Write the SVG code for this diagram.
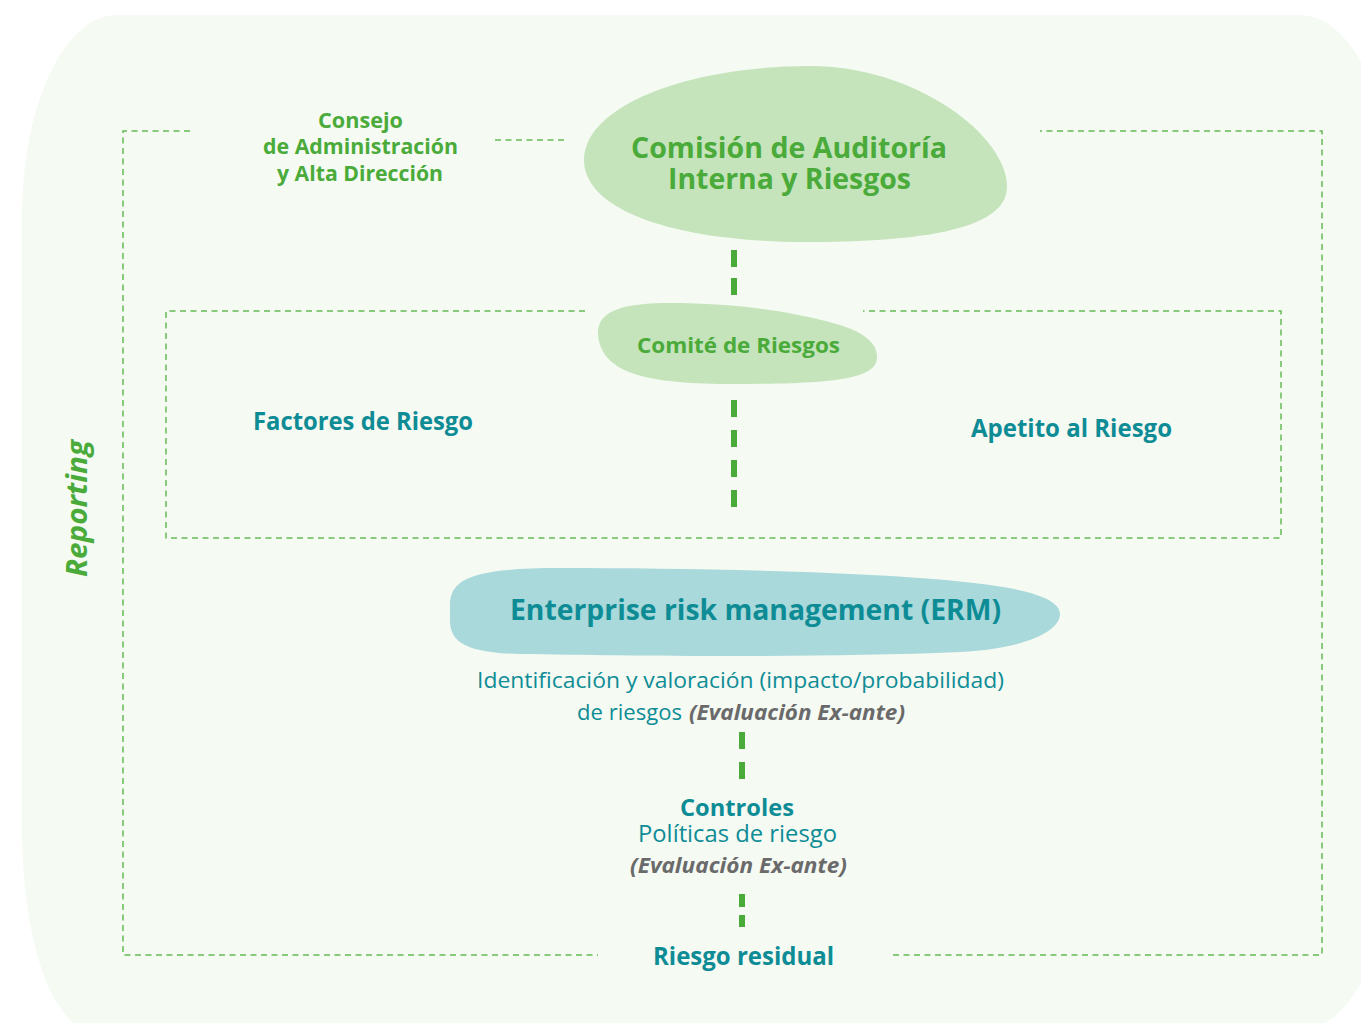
<svg xmlns="http://www.w3.org/2000/svg" width="1361" height="1023" viewBox="0 0 1361 1023">
<defs>
<style>
.g{fill:#4aab3a;font-family:"Open Sans","Noto Sans",sans-serif;font-weight:700}
.t{fill:#0e8c96;font-family:"Open Sans","Noto Sans",sans-serif;font-weight:700}
.tr{fill:#0e8c96;font-family:"Open Sans","Noto Sans",sans-serif;font-weight:400}
.gi{fill:#6a6a6a;font-family:"Open Sans","Noto Sans",sans-serif;font-weight:700;font-style:italic}
.frame{fill:none;stroke:#66bb55;stroke-width:1.5;stroke-dasharray:6 4.5}
.conn{stroke:#4aab3a;stroke-width:6;fill:none}
</style>
</defs>
<rect width="1361" height="1023" fill="#ffffff"/>
<path d="M117,15 H1300 A95 200 0 0 1 1395 215 V830 A95 200 0 0 1 1300 1030 H92 A70 200 0 0 1 22 830 V215 A95 200 0 0 1 117 15 Z" fill="#f5faf3"/>

<g id="frames">
<path class="frame" d="M190,131 H123 V955 H598"/>
<path class="frame" d="M893,955 H1322 V131 H1040"/>
<path class="frame" d="M495,140 H565"/>
<path class="frame" d="M585,311 H166 V538 H1281 V311 H863"/>
</g>

<g id="connectors">
<line class="conn" x1="734" y1="250" x2="734" y2="295" stroke-dasharray="17 11"/>
<line class="conn" x1="734" y1="400" x2="734" y2="508" stroke-dasharray="17 13"/>
<line class="conn" x1="742" y1="732" x2="742" y2="781" stroke-dasharray="17 13"/>
<line class="conn" x1="742" y1="894" x2="742" y2="927" stroke-dasharray="13 8"/>
</g>

<g id="consejo">
<text class="g" x="318" y="128" font-size="21" textLength="85" lengthAdjust="spacingAndGlyphs">Consejo</text>
<text class="g" x="263" y="154" font-size="21" textLength="195" lengthAdjust="spacingAndGlyphs">de Administración</text>
<text class="g" x="277" y="181" font-size="21" textLength="166" lengthAdjust="spacingAndGlyphs">y Alta Dirección</text>
</g>

<g id="comision">
<path d="M584,160 C584,105 690,66 810,66 C915,66 1007,135 1007,187 C1007,232 910,242 805,242 C680,242 584,212 584,160 Z" fill="#c5e4bb"/>
<text class="g" x="631" y="158" font-size="29" textLength="316" lengthAdjust="spacingAndGlyphs">Comisión de Auditoría</text>
<text class="g" x="668" y="189" font-size="29" textLength="243" lengthAdjust="spacingAndGlyphs">Interna y Riesgos</text>
</g>

<g id="comite">
<path d="M598,335 C596,310 625,303 670,303 C740,303 800,313 840,325 C868,334 877,345 877,357 C877,378 840,384 735,384 C650,384 602,375 598,335 Z" fill="#c5e4bb"/>
<text class="g" x="637" y="353" font-size="22" textLength="203" lengthAdjust="spacingAndGlyphs">Comité de Riesgos</text>
</g>

<g id="factores">
<text class="t" x="253" y="430" font-size="25" textLength="220" lengthAdjust="spacingAndGlyphs">Factores de Riesgo</text>
</g>

<g id="apetito">
<text class="t" x="971" y="437" font-size="25" textLength="201" lengthAdjust="spacingAndGlyphs">Apetito al Riesgo</text>
</g>

<g id="erm">
<path d="M450,605 C450,578 475,568 560,568 C700,568 900,572 990,585 C1040,592 1060,602 1060,614 C1060,630 1030,648 960,652 C820,658 640,656 520,654 C462,653 450,640 450,620 Z" fill="#a9d9da"/>
<text class="t" x="510" y="620" font-size="29" textLength="491" lengthAdjust="spacingAndGlyphs">Enterprise risk management (ERM)</text>
</g>

<g id="identificacion">
<text class="tr" x="477" y="688" font-size="22" textLength="527" lengthAdjust="spacingAndGlyphs">Identificación y valoración (impacto/probabilidad)</text>
<text class="tr" x="577" y="720" font-size="22" textLength="105" lengthAdjust="spacingAndGlyphs">de riesgos</text>
<text class="gi" x="689" y="720" font-size="22" textLength="216" lengthAdjust="spacingAndGlyphs">(Evaluación Ex-ante)</text>
</g>

<g id="controles">
<text class="t" x="680" y="816" font-size="23" textLength="114" lengthAdjust="spacingAndGlyphs">Controles</text>
<text class="tr" x="638" y="842" font-size="23" textLength="199" lengthAdjust="spacingAndGlyphs">Políticas de riesgo</text>
<text class="gi" x="630" y="873" font-size="22" textLength="217" lengthAdjust="spacingAndGlyphs">(Evaluación Ex-ante)</text>
</g>

<g id="riesgo-residual">
<text class="t" x="653" y="965" font-size="25" textLength="181" lengthAdjust="spacingAndGlyphs">Riesgo residual</text>
</g>

<g id="reporting">
<text class="g" transform="translate(87,577) rotate(-90)" x="0" y="0" font-size="28" font-style="italic" textLength="137" lengthAdjust="spacingAndGlyphs">Reporting</text>
</g>
</svg>
